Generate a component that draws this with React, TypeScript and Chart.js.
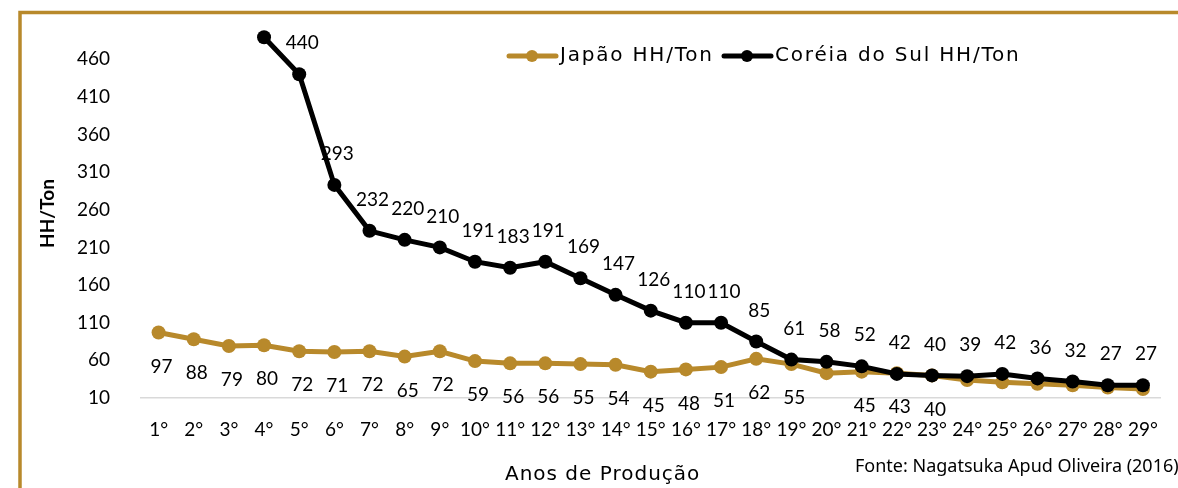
import React, { useEffect, useRef } from 'react';
import { Chart, registerables } from 'chart.js';

Chart.register(...registerables);

const CATEGORIES = ['1°', '2°', '3°', '4°', '5°', '6°', '7°', '8°', '9°', '10°', '11°', '12°', '13°', '14°', '15°', '16°', '17°', '18°', '19°', '20°', '21°', '22°', '23°', '24°', '25°', '26°', '27°', '28°', '29°'];
const JAPAN = [97, 88, 79, 80, 72, 71, 72, 65, 72, 59, 56, 56, 55, 54, 45, 48, 51, 62, 55, 43, 45, 43, 40, 34, 31, 29, 27, 24, 22];
const KOREA = [null, null, null, 489, 440, 293, 232, 220, 210, 191, 183, 191, 169, 147, 126, 110, 110, 85, 61, 58, 52, 42, 40, 39, 42, 36, 32, 27, 27];
const JAPAN_HIDDEN_LABELS = ['20°', '24°', '25°', '26°', '27°', '28°', '29°'];
const KOREA_HIDDEN_LABELS = ['4°'];
const Y_TICKS = [10, 60, 110, 160, 210, 260, 310, 360, 410, 460];
const SERIES_NAMES = ['Japão HH/Ton', 'Coréia do Sul HH/Ton'];
const X_TITLE = 'Anos de Produção';
const Y_TITLE = 'HH/Ton';
const SOURCE = 'Fonte: Nagatsuka Apud Oliveira (2016)';

const GOLD = '#B8892B';
const BLACK = '#000000';
const FONT = 'Lato, "DejaVu Sans", sans-serif';
const WIDE_FONT = '"DejaVu Sans", Lato, sans-serif';

export default function App() {
  const ref = useRef<HTMLCanvasElement | null>(null);

  useEffect(() => {
    document.body.style.margin = '0';
    const canvas = ref.current;
    if (!canvas) return;

    const decorations = {
      id: 'decorations',
      beforeDraw(chart: any) {
        const ctx = chart.ctx;
        ctx.save();
        ctx.fillStyle = '#ffffff';
        ctx.fillRect(0, 0, chart.width, chart.height);
        ctx.strokeStyle = GOLD;
        ctx.lineWidth = 3.5;
        ctx.beginPath();
        ctx.moveTo(20, chart.height + 10);
        ctx.lineTo(20, 12.5);
        ctx.lineTo(chart.width + 10, 12.5);
        ctx.stroke();
        ctx.restore();
      },
      afterDatasetsDraw(chart: any) {
        const ctx = chart.ctx;
        ctx.save();
        ctx.font = '19px ' + FONT;
        ctx.fillStyle = '#000000';
        ctx.textAlign = 'center';
        ctx.textBaseline = 'middle';
        chart.data.datasets.forEach((ds: any, di: number) => {
          const meta = chart.getDatasetMeta(di);
          const hidden = di === 0 ? JAPAN_HIDDEN_LABELS : KOREA_HIDDEN_LABELS;
          meta.data.forEach((pt: any, i: number) => {
            const v = ds.data[i];
            if (v === null || v === undefined) return;
            if (hidden.includes(CATEGORIES[i])) return;
            const dy = di === 0 ? 34 : -31;
            ctx.fillText(String(v), pt.x + 3, pt.y + dy);
          });
        });
        ctx.restore();
      },
      afterDraw(chart: any) {
        const ctx = chart.ctx;
        ctx.save();
        // legend
        const items = [
          { x: 507, color: GOLD, text: SERIES_NAMES[0] },
          { x: 722, color: BLACK, text: SERIES_NAMES[1] },
        ];
        const ly = 56;
        items.forEach((it) => {
          ctx.strokeStyle = it.color;
          ctx.lineWidth = 5;
          ctx.lineCap = 'round';
          ctx.beginPath();
          ctx.moveTo(it.x + 2, ly);
          ctx.lineTo(it.x + 49, ly);
          ctx.stroke();
          ctx.fillStyle = it.color;
          ctx.beginPath();
          ctx.arc(it.x + 25, ly, 6, 0, Math.PI * 2);
          ctx.fill();
          ctx.fillStyle = '#000000';
          ctx.font = '20px ' + WIDE_FONT;
          (ctx as any).letterSpacing = '1.8px';
          ctx.textAlign = 'left';
          ctx.textBaseline = 'middle';
          ctx.fillText(it.text, it.x + 53, ly);
        });
        // x title
        ctx.fillStyle = '#000000';
        ctx.font = '20px ' + WIDE_FONT;
        (ctx as any).letterSpacing = '1px';
        ctx.textAlign = 'left';
        ctx.textBaseline = 'middle';
        ctx.fillText(X_TITLE, 505, 475);
        // source
        (ctx as any).letterSpacing = '0px';
        ctx.font = '18px "Noto Sans", sans-serif';
        ctx.textAlign = 'left';
        ctx.fillText(SOURCE, 855, 467);
        ctx.restore();
      },
    };

    const chart = new Chart(canvas, {
      type: 'line',
      data: {
        labels: CATEGORIES,
        datasets: [
          {
            label: SERIES_NAMES[0],
            data: JAPAN,
            borderColor: GOLD,
            backgroundColor: GOLD,
            borderWidth: 5,
            pointRadius: 7,
            pointBorderWidth: 0,
            pointBackgroundColor: GOLD,
            tension: 0,
            order: 2,
          },
          {
            label: SERIES_NAMES[1],
            data: KOREA,
            borderColor: BLACK,
            backgroundColor: BLACK,
            borderWidth: 5,
            pointRadius: 7,
            pointBorderWidth: 0,
            pointBackgroundColor: BLACK,
            tension: 0,
            spanGaps: false,
            order: 1,
          },
        ],
      },
      options: {
        responsive: false,
        animation: false,
        maintainAspectRatio: false,
        layout: { padding: { left: 22, top: 29, right: 0, bottom: 0 } },
        plugins: {
          legend: { display: false },
          tooltip: { enabled: false },
        },
        scales: {
          x: {
            offset: true,
            grid: { display: false, drawTicks: false },
            border: { display: true, color: '#d9d9d9', width: 1.5 },
            ticks: {
              color: '#000000',
              font: { family: FONT, size: 19 },
              padding: 20,
              maxRotation: 0,
              autoSkip: false,
            },
            afterFit(scale: any) {
              scale.height = 90;
            },
          },
          y: {
            min: 10,
            max: 500,
            grid: { display: false, drawTicks: false },
            border: { display: false },
            afterBuildTicks(scale: any) {
              scale.ticks = Y_TICKS.map((v) => ({ value: v }));
            },
            ticks: {
              color: '#000000',
              font: { family: FONT, size: 19 },
              padding: 31,
            },
            title: {
              display: true,
              text: Y_TITLE,
              color: '#000000',
              font: { family: FONT, size: 19, weight: 'bold' },
              padding: { top: 14, bottom: 0 },
            },
            afterFit(scale: any) {
              scale.width = 119;
              scale.paddingTop = 0;
              scale.paddingBottom = 0;
            },
          },
        },
      },
      plugins: [decorations],
    });

    return () => chart.destroy();
  }, []);

  return (
    <div style={{ position: 'relative', width: 1178, height: 488 }}>
      <canvas ref={ref} width={1178} height={488} style={{ display: 'block' }} />
    </div>
  );
}
